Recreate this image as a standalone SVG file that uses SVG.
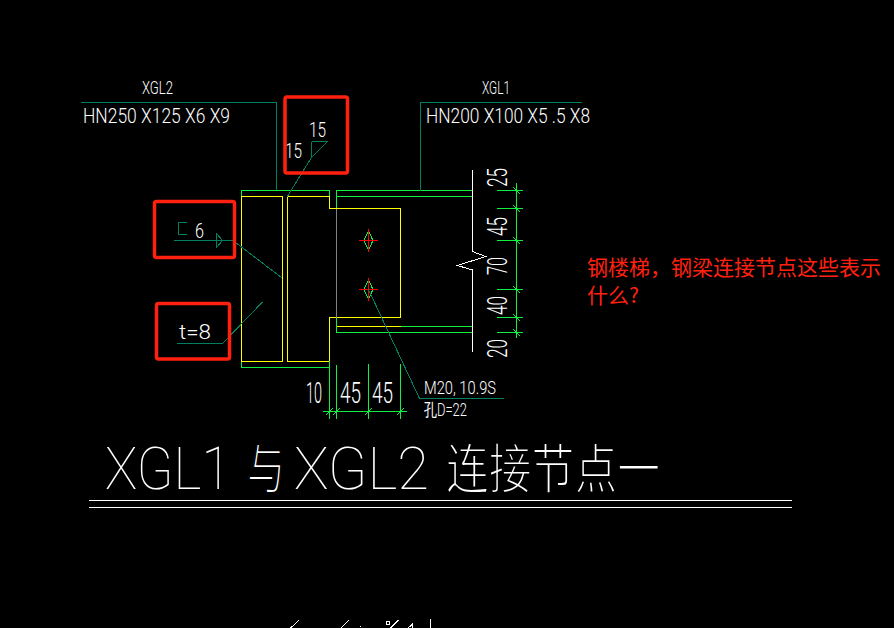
<svg xmlns="http://www.w3.org/2000/svg" width="894" height="628" viewBox="0 0 894 628">
<style>
.l{fill:none;stroke-width:1;shape-rendering:crispEdges}
.g{stroke:#10f040}.y{stroke:#ffff00}.t{stroke:#008060}.w{stroke:#fff}.a{stroke:#808080}.r{stroke:#ff0000}
.b{fill:none;stroke:#ff2010;stroke-width:3.5}
text{fill:#fff;font-family:"Roboto","Liberation Sans",sans-serif;font-weight:300}
.h{font-weight:100;font-size:60px}
.c{font-family:"Noto Sans CJK SC","Noto Sans",sans-serif;font-weight:400;font-size:54px;stroke:#000;stroke-width:2px;paint-order:fill stroke}
.q{fill:#ff2010;font-family:"Noto Sans CJK SC","Liberation Sans",sans-serif;font-weight:400;font-size:21px}
</style>
<rect width="894" height="628" fill="#000"/>
<g id="structure">
<path class="l g" d="M241.500 196.500V190.500H329.500V196.500M241.500 361.500V367.500H329.500M336.500 208V190.500H472.500M336.500 196.500H472.500M336.500 317.500V332.500H472.500M400.500 326.500H472.500"/>
<path class="l y" d="M241.500 196.500H282.500V361.500H241.500ZM329.500 196.500H287.500V361.500H329.500V317.500H400.500V208.500H329.500ZM336.500 326.500H400.500"/>
<path class="l a" d="M336.500 208.500V317.500"/>
<path class="l w" d="M472.500 170V251.500L485.500 256.500L457.500 265.500L472.500 270V351.500"/>
</g>
<g id="bolts">
<path class="l g" d="M368.500 231L373 240.500L368.500 250L364 240.500ZM368.500 280L373 289.500L368.500 299L364 289.500Z"/>
<path class="l r" d="M359 240.500H378M368.500 229V252M359 289.500H378M368.500 278V301"/>
</g>
<g id="connectors">
<path class="l t" d="M81 102.500H276.500V190M420.500 191V102.500H582M311.500 141.500H327.500L311.500 157.500V141.500M311.500 157.500L287 197M186.500 222.500H178.500V234.500H186.500M174 240.500H233M216.500 233.500V247.500L222.500 240.500ZM233 240.500L282 278M176.500 343.500H222.500L262.500 302M368.500 289.500L419.500 398.500H503.500"/>
</g>
<g id="dimensions">
<path class="l g" d="M516.500 183V338M497 190.500H523M497 208.500H523M497 240.500H523M497 289.500H523M497 317.500H523M497 332.500H523M323 411.500H407M329.500 361V419M336.500 365V419M368.500 364V419M400.500 364V419"/>
<path class="l g" d="M513 187L520 194M513 205L520 212M513 237L520 244M513 286L520 293M513 314L520 321M513 329L520 336M326 415L333 408M333 415L340 408M365 415L372 408M397 415L404 408"/>
</g>
<g id="labels">
<text x="142" y="94" font-size="19" textLength="31" lengthAdjust="spacingAndGlyphs">XGL2</text>
<text x="83" y="122.500" font-size="20" textLength="147" lengthAdjust="spacingAndGlyphs">HN250 X125 X6 X9</text>
<text x="482" y="94" font-size="19" textLength="28" lengthAdjust="spacingAndGlyphs">XGL1</text>
<text x="426" y="122.500" font-size="20" textLength="164" lengthAdjust="spacingAndGlyphs">HN200 X100 X5 .5 X8</text>
<text x="309" y="137" font-size="20" textLength="17" lengthAdjust="spacingAndGlyphs">15</text>
<text x="285" y="157.500" font-size="20" textLength="17" lengthAdjust="spacingAndGlyphs">15</text>
<text x="195" y="237.500" font-size="20" textLength="9" lengthAdjust="spacingAndGlyphs">6</text>
<text x="179" y="339" font-size="21" textLength="32" lengthAdjust="spacingAndGlyphs">t=8</text>
<text x="306" y="402.500" font-size="29" textLength="16" lengthAdjust="spacingAndGlyphs">10</text>
<text x="340" y="403" font-size="29" textLength="21" lengthAdjust="spacingAndGlyphs">45</text>
<text x="372" y="403" font-size="29" textLength="21" lengthAdjust="spacingAndGlyphs">45</text>
<text x="424" y="394" font-size="18" textLength="72" lengthAdjust="spacingAndGlyphs">M20, 10.9S</text>
<text x="424" y="416" font-size="18" font-family="Noto Sans CJK SC,sans-serif" textLength="43" lengthAdjust="spacingAndGlyphs">孔D=22</text>
<text transform="translate(507 187) rotate(-90)" font-size="28" textLength="19" lengthAdjust="spacingAndGlyphs">25</text>
<text transform="translate(507 236) rotate(-90)" font-size="28" textLength="19" lengthAdjust="spacingAndGlyphs">45</text>
<text transform="translate(507 275) rotate(-90)" font-size="28" textLength="18" lengthAdjust="spacingAndGlyphs">70</text>
<text transform="translate(507 315) rotate(-90)" font-size="28" textLength="19" lengthAdjust="spacingAndGlyphs">40</text>
<text transform="translate(507 358) rotate(-90)" font-size="28" textLength="19" lengthAdjust="spacingAndGlyphs">20</text>
</g>
<g id="title">
<text y="489"><tspan class="h" x="105" textLength="126" lengthAdjust="spacingAndGlyphs">XGL1</tspan><tspan class="c" x="247" textLength="38" lengthAdjust="spacingAndGlyphs">与</tspan><tspan class="h" x="294" textLength="135" lengthAdjust="spacingAndGlyphs">XGL2</tspan><tspan class="c" x="446" textLength="214" lengthAdjust="spacingAndGlyphs">连接节点一</tspan></text>
<path class="l w" d="M89 500.500H792M89 507.500H792"/>
</g>
<g id="fragments">
<path class="l w" d="M290.700 628L299 620M341 628L349.300 620M360 626V627M386 621L389 621L389 624L386 624ZM390.700 628L398.700 620M408 628L412.700 624V628M430.500 619V628"/>
</g>
<g id="marks">
<rect class="b" x="285" y="97" width="62.500" height="76" rx="2"/>
<rect class="b" x="154.500" y="201.500" width="80" height="56" rx="2"/>
<rect class="b" x="156.500" y="303.500" width="73" height="55.500" rx="2"/>
</g>
<g id="question">
<text class="q" x="587" y="275" textLength="294">钢楼梯，钢梁连接节点这些表示</text>
<text class="q" x="587" y="303">什么?</text>
</g>
</svg>
